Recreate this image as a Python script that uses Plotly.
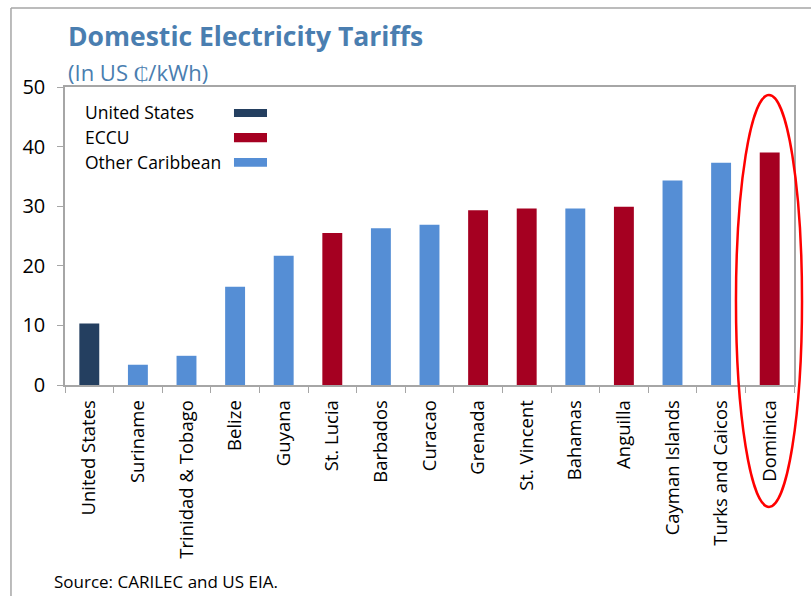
import plotly.graph_objects as go

# Domestic electricity tariffs, US cents per kWh
countries = ["United States", "Suriname", "Trinidad & Tobago", "Belize", "Guyana",
             "St. Lucia", "Barbados", "Curacao", "Grenada", "St. Vincent",
             "Bahamas", "Anguilla", "Cayman Islands", "Turks and Caicos", "Dominica"]
tariffs = [10.3, 3.4, 4.9, 16.5, 21.7, 25.5, 26.3, 26.9, 29.3, 29.6,
           29.6, 29.9, 34.3, 37.3, 39.0]
groups = ["United States", "Other Caribbean", "Other Caribbean", "Other Caribbean",
          "Other Caribbean", "ECCU", "Other Caribbean", "Other Caribbean", "ECCU", "ECCU",
          "Other Caribbean", "ECCU", "Other Caribbean", "Other Caribbean", "ECCU"]
group_names = ["United States", "ECCU", "Other Caribbean"]
group_colors = {"United States": "#243F60", "ECCU": "#A50021", "Other Caribbean": "#558ED5"}

FONT = "Open Sans"
AXIS_GRAY = "#A6A6A6"
TITLE_BLUE = "#4A7EB0"

fig = go.Figure()
for g in group_names:
    xs = [c for c, gg in zip(countries, groups) if gg == g]
    ys = [v for v, gg in zip(tariffs, groups) if gg == g]
    fig.add_trace(go.Bar(x=xs, y=ys, name=g, marker_color=group_colors[g],
                         marker_line_width=0, showlegend=False))

shapes = []
annotations = []

# Legend drawn with labels on the left and swatches on the right
legend_rows = [(0.916, 0.899, 0.926), (0.832, 0.815, 0.846), (0.748, 0.732, 0.762)]
for g, (yc, y0, y1) in zip(group_names, legend_rows):
    annotations.append(dict(x=0.0247, y=yc, xref="paper", yref="paper", text=g,
                            showarrow=False, xanchor="left", yanchor="middle",
                            font=dict(family=FONT, size=17.5, color="#000000")))
    shapes.append(dict(type="rect", xref="paper", yref="paper", x0=0.2318, x1=0.2771,
                       y0=y0, y1=y1, fillcolor=group_colors[g], line_width=0))

# Highlight around Dominica
shapes.append(dict(type="circle", xref="paper", yref="paper", x0=0.9204, x1=1.011,
                   y0=-0.409, y1=0.973, line=dict(color="#FF0000", width=2.5)))

# Outer frame (left and top edges)
shapes.append(dict(type="line", xref="paper", yref="paper", x0=-0.0741, x1=-0.0741,
                   y0=1.265, y1=-0.72, line=dict(color=AXIS_GRAY, width=1.5)))
shapes.append(dict(type="line", xref="paper", yref="paper", x0=-0.0741, x1=1.03,
                   y0=1.265, y1=1.265, line=dict(color=AXIS_GRAY, width=1.5)))

# Title, subtitle and source note
annotations.append(dict(x=0.002, y=1.171, xref="paper", yref="paper",
                        text="<b>Domestic Electricity Tariffs</b>", showarrow=False,
                        xanchor="left", yanchor="middle",
                        font=dict(family=FONT, size=26.5, color=TITLE_BLUE)))
annotations.append(dict(x=0.002, y=1.052, xref="paper", yref="paper",
                        text="(In US \u20b5/kWh)", showarrow=False,
                        xanchor="left", yanchor="middle",
                        font=dict(family=FONT, size=22, color=TITLE_BLUE)))
annotations.append(dict(x=-0.0178, y=-0.661, xref="paper", yref="paper",
                        text="Source: CARILEC and US EIA.", showarrow=False,
                        xanchor="left", yanchor="middle",
                        font=dict(family=FONT, size=17, color="#000000")))

fig.update_layout(
    width=811, height=596,
    margin=dict(l=65, r=17, t=87, b=211),
    paper_bgcolor="white", plot_bgcolor="white",
    barmode="relative", bargap=0.59,
    font=dict(family=FONT, color="#000000"),
    shapes=shapes, annotations=annotations,
    xaxis=dict(categoryorder="array", categoryarray=countries,
               tickangle=-90, tickfont=dict(size=18.5), ticklabelstandoff=6,
               showline=True, linecolor=AXIS_GRAY, linewidth=1.5, mirror=True,
               ticks="outside", tickson="boundaries", ticklen=6, tickcolor=AXIS_GRAY,
               showgrid=False),
    yaxis=dict(range=[0, 50], tickvals=[0, 10, 20, 30, 40, 50],
               tickfont=dict(size=20), ticklabelstandoff=8,
               showline=True, linecolor=AXIS_GRAY, linewidth=1.5, mirror=True,
               ticks="outside", ticklen=6, tickcolor=AXIS_GRAY,
               showgrid=False, zeroline=False),
)

fig.write_html("out.html")
